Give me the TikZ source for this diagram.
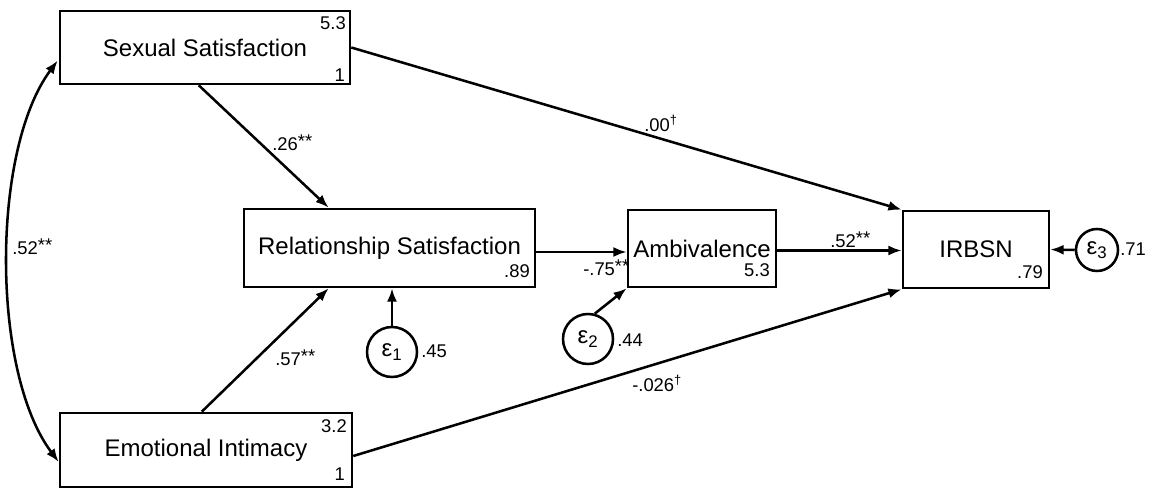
\documentclass[tikz,border=0pt]{standalone}
\usepackage{fontspec}
\setmainfont{Liberation Sans}
\usetikzlibrary{arrows.meta,calc}
\tikzset{
  varbox/.style={draw, line width=1.9pt, inner sep=0pt, font=\fontsize{18}{20}\selectfont},
  errc/.style={draw, circle, line width=1.9pt, inner sep=0pt, minimum size=37.5pt, font=\fontsize{18}{20}\selectfont},
  small/.style={inner sep=0pt, font=\fontsize{13.8}{15}\selectfont},
  path/.style={line width=1.9pt, -{Latex[length=10pt,width=7.5pt]}}
}
\newcommand{\st}{\raisebox{2.5pt}{**}}
\newcommand{\dg}{\textsuperscript{†}}
\begin{document}
\begin{tikzpicture}[x=0.75pt,y=-0.75pt]
\useasboundingbox (0,0) rectangle (1157,488);
% boxes
\node[varbox, minimum width=217.5pt, minimum height=54.75pt] (SS) at (205,47.5) {Sexual Satisfaction};
\node[varbox, minimum width=219pt, minimum height=55.5pt] (EI) at (206,450) {Emotional Intimacy};
\node[varbox, minimum width=218.25pt, minimum height=58.5pt] (RS) at (389.5,248) {Relationship Satisfaction};
\node[varbox, minimum width=111pt, minimum height=57.75pt] (AM) at (702,248.5) {Ambivalence};
\node[varbox, minimum width=109.5pt, minimum height=57.75pt] (IR) at (976,249.5) {IRBSN};
% error circles
\node[errc] (E1) at (392,352) {ε\textsubscript{1}};
\node[errc] (E2) at (588,339) {ε\textsubscript{2}};
\node[errc, minimum size=31.5pt] (E3) at (1097,250) {ε\textsubscript{3}};
% numbers inside boxes
\node[small, anchor=base east] (ssm) at (346,30) {5.3};
\node[small, anchor=base east] (ssv) at (345,82) {1};
\node[small, anchor=base east] (eim) at (347,432) {3.2};
\node[small, anchor=base east] (eiv) at (345,480) {1};
\node[small, anchor=base east] (rsv) at (530,278) {.89};
\node[small, anchor=base east] (amv) at (770,277) {5.3};
\node[small, anchor=base east] (irv) at (1043,279) {.79};
% residual values
\node[small, anchor=base west] (e1v) at (421,358) {.45};
\node[small, anchor=base west] (e2v) at (617,347) {.44};
\node[small, anchor=base west] (e3v) at (1120,256) {.71};
% connectors
\draw[path] ($(SS.south west)+(140,0)$) -- ($(RS.north west)+(86,0)$);
\draw[path] ($(EI.north west)+(143,0)$) -- ($(RS.south west)+(86,0)$);
\draw[path] (SS.east) -- (IR.north west);
\draw[path] ($(EI.east)+(0,6)$) -- (IR.south west);
\draw[path] ($(RS.east)+(0,4)$) -- ($(AM.west)+(0,3.5)$);
\draw[path] ($(AM.east)+(0,2)$) -- ($(IR.west)+(0,1)$);
\draw[path] (E1.north) -- (E1.north |- RS.south);
\draw[path] (E2.75) -- (AM.south west);
\draw[path] (E3.west) -- (IR.east);
\draw[line width=1.9pt, {Latex[length=10pt,width=7.5pt]}-{Latex[length=10pt,width=7.5pt]}]
  ($(SS.west)+(-1,13)$) .. controls (-9,150) and (-9,372) .. ($(EI.west)+(0,12)$);
% path labels
\node[small, anchor=west] (l1) at (12,247) {.52\st};
\node[small, anchor=west] (l2) at (272,143) {.26\st};
\node[small, anchor=west] (l3) at (275,358) {.57\st};
\node[small, anchor=west] (l4) at (644,123) {.00\dg};
\node[small, anchor=west] (l5) at (632,383) {-.026\dg};
\node[small, anchor=west] (l6) at (830,240) {.52\st};
\node[small, anchor=west] (l7) at (583,268) {-.75\st};
\end{tikzpicture}
\end{document}
